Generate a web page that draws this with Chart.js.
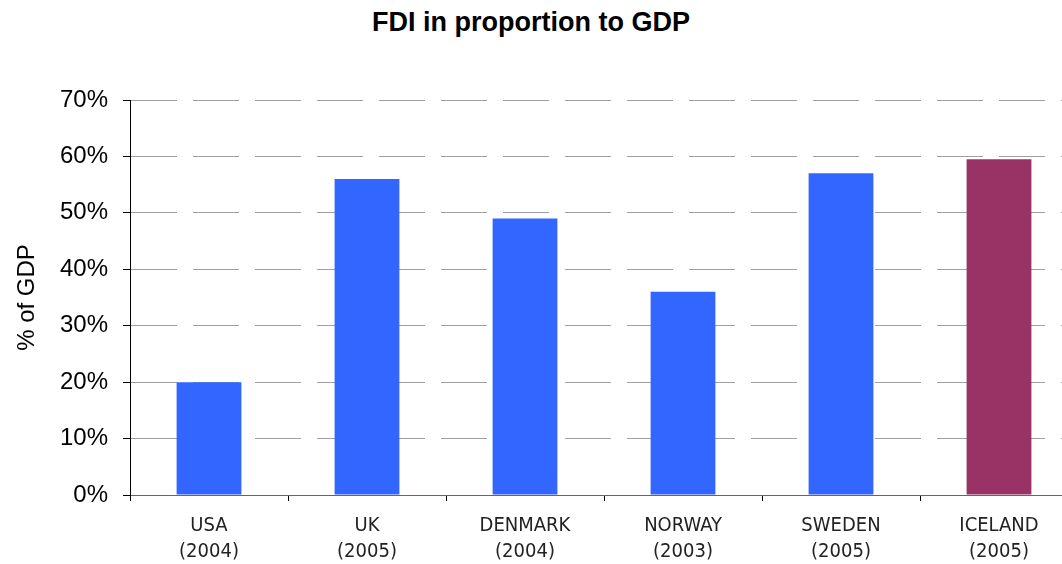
<!DOCTYPE html>
<html>
<head>
<meta charset="utf-8">
<script src="https://cdn.jsdelivr.net/npm/chart.js@4/dist/chart.umd.min.js"></script>
<style>
  body { margin: 0; overflow: hidden; background: #fff; }
  #title {
    position: absolute; left: 0; top: 9px; width: 1062px;
    text-align: center; font: bold 27px/27px "Liberation Sans", Arial, sans-serif; color: #000;
  }
  #wrap { position: absolute; left: 0; top: 0; width: 1080px; height: 564px; }
</style>
</head>
<body>
<div id="title">FDI in proportion to GDP</div>
<div id="wrap"><canvas id="barChart"></canvas></div>
<script>
  // data
  var countries = ["USA", "UK", "DENMARK", "NORWAY", "SWEDEN", "ICELAND"];
  var years = ["(2004)", "(2005)", "(2004)", "(2003)", "(2005)", "(2005)"];
  var fdiShare = [20, 56, 49, 36, 57, 59.5];
  var yTicks = [0, 10, 20, 30, 40, 50, 60, 70];

  var labels = countries.map(function (c, i) { return [c, years[i]]; });
  var barColors = countries.map(function (c) { return c === "ICELAND" ? '#993366' : '#3366FF'; });

  var ctx = document.getElementById("barChart").getContext('2d');
  var myBarChart = new Chart(ctx, {
    type: 'bar',
    data: {
      labels: labels,
      datasets: [{
        label: "% of GDP",
        data: fdiShare,
        backgroundColor: barColors,
        borderWidth: 0,
        inflateAmount: 0,
        barPercentage: 0.41,
        categoryPercentage: 1
      }]
    },
    options: {
      responsive: true,
      maintainAspectRatio: false,
      animation: false,
      layout: { padding: { top: 100, right: 2, bottom: 0, left: 0 } },
      plugins: {
        legend: { display: false },
        tooltip: { enabled: false }
      },
      scales: {
        x: {
          offset: true,
          grid: {
            offset: true,
            drawOnChartArea: false,
            tickLength: 6,
            tickColor: '#000',
            tickWidth: 1
          },
          border: { color: '#666', width: 1 },
          ticks: {
            color: '#222',
            padding: 12,
            maxRotation: 0,
            autoSkip: false,
            font: { family: '"Liberation Sans Narrow", "DejaVu Sans Condensed", sans-serif', size: 20, lineHeight: 1.3 }
          },
          afterFit: function (scale) { scale.height = 69; }
        },
        y: {
          min: 0,
          max: 70,
          afterBuildTicks: function (scale) {
            scale.ticks = yTicks.map(function (v) { return { value: v }; });
          },
          grid: {
            color: '#a0a0a0',
            lineWidth: 1,
            tickBorderDash: [],
            tickLength: 7,
            tickColor: '#000'
          },
          // in v4 border.dash sets the dash of the grid lines
          border: { color: '#000', width: 1, dash: [46, 16] },
          ticks: {
            color: '#000',
            padding: 15,
            font: { family: '"Liberation Sans", Arial, sans-serif', size: 24 },
            callback: function (v) { return v + '%'; }
          },
          title: {
            display: true,
            text: '% of GDP',
            color: '#000',
            padding: { top: 13, bottom: 0 },
            font: { family: '"Liberation Sans", Arial, sans-serif', size: 24 }
          },
          afterFit: function (scale) { scale.width = 130; }
        }
      }
    }
  });
</script>
</body>
</html>
